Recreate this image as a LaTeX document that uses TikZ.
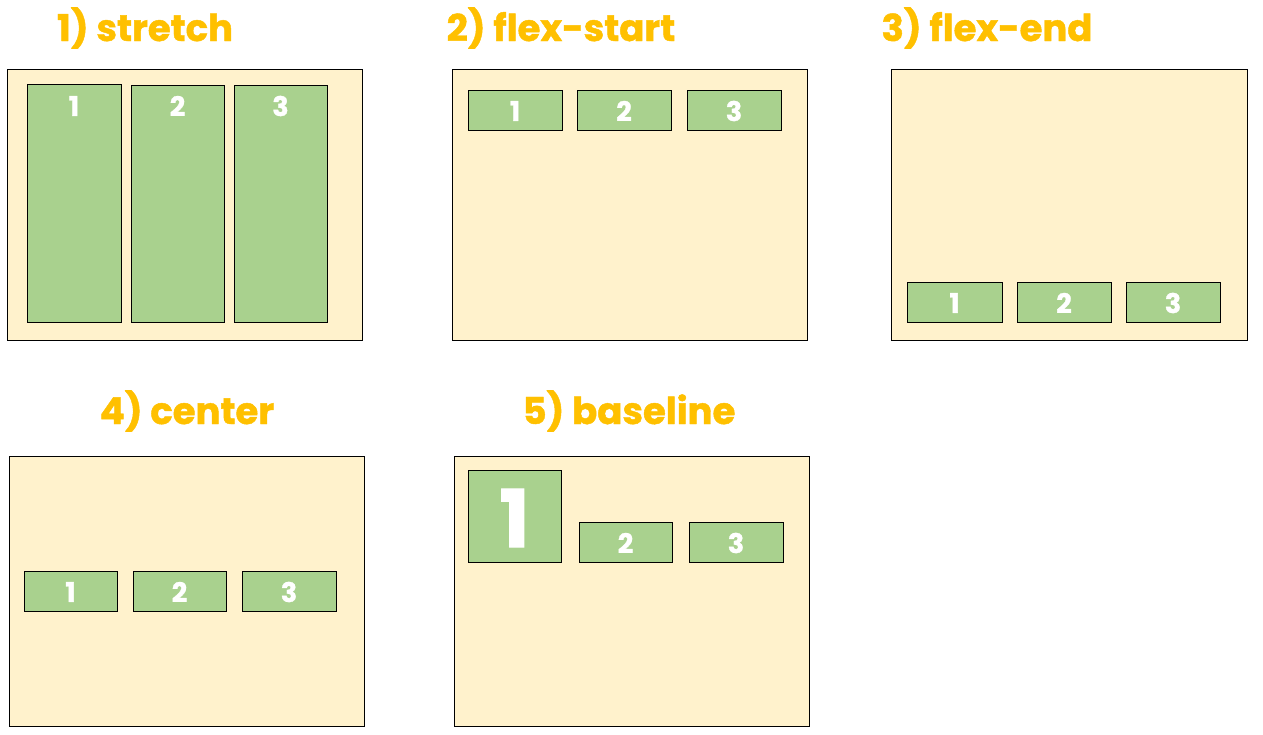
\documentclass[tikz,border=0pt]{standalone}
\usepackage{fontspec}
\newfontfamily\tfont{Poppins}[BoldFeatures={FakeBold=1.2}]
\definecolor{ttl}{HTML}{FFC000}
\definecolor{pnl}{HTML}{FFF2CC}
\definecolor{grn}{HTML}{A9D18E}
\begin{document}
\begin{tikzpicture}[x=1pt,y=-1pt,
  title/.style={font=\tfont\bfseries\fontsize{37}{37}\selectfont, text=ttl, inner sep=0pt},
  panel/.style={draw=black, fill=pnl, line width=1pt},
  gbox/.style={draw=black, fill=grn, line width=0.9pt},
  num/.style={font=\tfont\bfseries\fontsize{27}{27}\selectfont, text=white, inner sep=0pt},
  bignum/.style={font=\tfont\bfseries\fontsize{80}{80}\selectfont, text=white, inner sep=0pt}]
\useasboundingbox (0,0) rectangle (1263,735);
% titles
\node[title] (t1) at (145,28) {1) stretch};
\node[title] (t2) at (561,28) {2) flex-start};
\node[title] (t3) at (987,28) {3) flex-end};
\node[title] (t4) at (187,411) {4) center};
\node[title] (t5) at (629,411) {5) baseline};
% panels
\draw[panel] (7,70) rectangle (362,340);
\draw[panel] (452,70) rectangle (807,340);
\draw[panel] (891,70) rectangle (1247,340);
\draw[panel] (9,456) rectangle (364,726);
\draw[panel] (454,456) rectangle (809,726);
% 1 stretch
\draw[gbox] (27,84) rectangle (121,322);
\draw[gbox] (131,85) rectangle (224,322);
\draw[gbox] (234,85) rectangle (327,322);
\node[num] (a1) at (74,106) {1};
\node[num] (a2) at (177.5,106) {2};
\node[num] (a3) at (280.5,106) {3};
% 2 flex-start
\draw[gbox] (468,90) rectangle (562,130);
\draw[gbox] (577,90) rectangle (671,130);
\draw[gbox] (687,90) rectangle (781,130);
\node[num] (b1) at (515,111) {1};
\node[num] (b2) at (624,111) {2};
\node[num] (b3) at (734,111) {3};
% 3 flex-end
\draw[gbox] (907,282) rectangle (1002,322);
\draw[gbox] (1017,282) rectangle (1111,322);
\draw[gbox] (1126,282) rectangle (1220,322);
\node[num] (c1) at (954.5,303) {1};
\node[num] (c2) at (1064,303) {2};
\node[num] (c3) at (1173,303) {3};
% 4 center
\draw[gbox] (24,571) rectangle (117,611);
\draw[gbox] (133,571) rectangle (226,611);
\draw[gbox] (242,571) rectangle (336,611);
\node[num] (d1) at (70.5,592) {1};
\node[num] (d2) at (179.5,592) {2};
\node[num] (d3) at (289,592) {3};
% 5 baseline
\draw[gbox] (468,470) rectangle (561,562);
\draw[gbox] (579,522) rectangle (672,562);
\draw[gbox] (689,522) rectangle (783,562);
\node[bignum] (e1) at (514.5,518) {1};
\node[num] (e2) at (625.5,543) {2};
\node[num] (e3) at (736,543) {3};
\end{tikzpicture}
\end{document}
